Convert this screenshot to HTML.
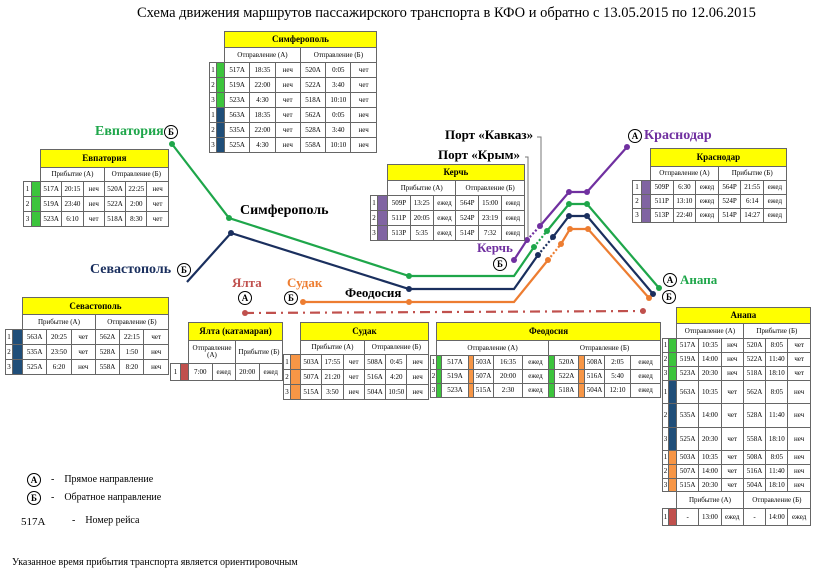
<!DOCTYPE html>
<html><head><meta charset="utf-8">
<style>
body{margin:0;width:820px;height:575px;background:#fff;position:relative;overflow:hidden;font-family:"Liberation Serif",serif;}
table{position:absolute;border-collapse:collapse;table-layout:fixed;font-size:7px;font-family:"Liberation Serif",serif;}
td{border:1px solid #666;text-align:center;padding:0;overflow:hidden;white-space:nowrap;line-height:1;}
td.e{border:none;}
td.h{background:#ffff00;font-weight:bold;font-size:9px;}
td.s{font-size:7px;}
.g{background:#3cc43c}.b{background:#1f4e79}.o{background:#f79646}.p{background:#8064a2}.r{background:#c0504d}
.t{position:absolute;white-space:nowrap;font-weight:bold;font-family:"Liberation Serif",serif;}
.c{position:absolute;width:12px;height:12px;border:1.5px solid #000;border-radius:50%;font:bold 9px "Liberation Serif",serif;text-align:center;line-height:12px;background:#fff;}
.x{position:absolute;white-space:nowrap;font-size:10px;}
</style></head><body>
<div class="x" style="left:137px;top:5px;font-size:14.5px;">Схема движения маршрутов пассажирского транспорта в КФО и обратно с 13.05.2015 по 12.06.2015</div>

<svg width="820" height="575" style="position:absolute;left:0;top:0">
<g fill="none" stroke-width="2.2">
<polyline points="172,144 229,218 409,276 514,276 534,247" stroke="#1ea64a"/>
<line x1="534" y1="247" x2="547" y2="231" stroke="#1ea64a" stroke-dasharray="2,2"/>
<polyline points="547,231 569,204 587,204 659,288" stroke="#1ea64a"/>
<polyline points="187,282 231,233 409,289 514,289 538,255" stroke="#1a2f5e"/>
<line x1="538" y1="255" x2="553" y2="237" stroke="#1a2f5e" stroke-dasharray="2,2"/>
<polyline points="553,237 569,216 587,216 653,294" stroke="#1a2f5e"/>
<polyline points="303,302 514,302 548,260" stroke="#ed7d31"/>
<line x1="548" y1="260" x2="561" y2="244" stroke="#ed7d31" stroke-dasharray="2,2"/>
<polyline points="561,244 570,229 588,229 649,298" stroke="#ed7d31"/>
<polyline points="514,260 527,240" stroke="#7030a0"/>
<line x1="527" y1="240" x2="540" y2="226" stroke="#7030a0" stroke-dasharray="2,2"/>
<polyline points="540,226 569,192 587,192 627,147" stroke="#7030a0"/>
<line x1="244" y1="313" x2="645" y2="311" stroke="#c0504d" stroke-dasharray="10,5,2,5"/>
</g>
<g stroke="#777" stroke-width="1" fill="none">
<polyline points="537,137 541,137 541,226"/>
<polyline points="525,157 528,157 528,240"/>
</g>
<g fill="#1ea64a"><circle cx="172" cy="144" r="3"/><circle cx="229" cy="218" r="3"/><circle cx="409" cy="276" r="3"/><circle cx="534" cy="247" r="3"/><circle cx="547" cy="231" r="3"/><circle cx="569" cy="204" r="3"/><circle cx="587" cy="204" r="3"/><circle cx="659" cy="288" r="3"/></g>
<g fill="#1a2f5e"><circle cx="231" cy="233" r="3"/><circle cx="409" cy="289" r="3"/><circle cx="538" cy="255" r="3"/><circle cx="553" cy="237" r="3"/><circle cx="569" cy="216" r="3"/><circle cx="587" cy="216" r="3"/><circle cx="653" cy="294" r="3"/></g>
<g fill="#ed7d31"><circle cx="303" cy="302" r="3"/><circle cx="409" cy="302" r="3"/><circle cx="548" cy="260" r="3"/><circle cx="561" cy="244" r="3"/><circle cx="570" cy="229" r="3"/><circle cx="588" cy="229" r="3"/><circle cx="649" cy="298" r="3"/></g>
<g fill="#7030a0"><circle cx="514" cy="260" r="3"/><circle cx="527" cy="240" r="3"/><circle cx="540" cy="226" r="3"/><circle cx="569" cy="192" r="3"/><circle cx="587" cy="192" r="3"/><circle cx="627" cy="147" r="3"/></g>
<g fill="#c0504d"><circle cx="245" cy="313" r="3"/><circle cx="643" cy="311" r="3"/></g>
</svg>

<div class="t" style="left:95px;top:124px;font-size:14px;color:#1ea64a">Евпатория</div><div class="c" style="left:164px;top:125px">Б</div>
<div class="t" style="left:240px;top:203px;font-size:14px;">Симферополь</div>
<div class="t" style="left:90px;top:262px;font-size:14px;color:#1a2f5e">Севастополь</div><div class="c" style="left:177px;top:263px">Б</div>
<div class="t" style="left:232px;top:275px;font-size:13px;color:#c0504d">Ялта</div><div class="c" style="left:238px;top:291px">А</div>
<div class="t" style="left:287px;top:275px;font-size:13px;color:#ed7d31">Судак</div><div class="c" style="left:284px;top:291px">Б</div>
<div class="t" style="left:345px;top:285px;font-size:13px;">Феодосия</div>
<div class="t" style="left:477px;top:240px;font-size:13px;color:#7030a0">Керчь</div><div class="c" style="left:493px;top:257px">Б</div>
<div class="t" style="left:445px;top:127px;font-size:13px;">Порт «Кавказ»</div>
<div class="t" style="left:438px;top:147px;font-size:13px;">Порт «Крым»</div>
<div class="c" style="left:628px;top:129px">А</div><div class="t" style="left:644px;top:128px;font-size:14px;color:#7030a0">Краснодар</div>
<div class="c" style="left:663px;top:273px">А</div><div class="t" style="left:680px;top:272px;font-size:13px;color:#1ea64a">Анапа</div>
<div class="c" style="left:662px;top:290px">Б</div>

<!-- Simferopol -->
<table style="left:209px;top:31px;width:167px">
<colgroup><col style="width:7px"><col style="width:8px"><col span="6" style="width:25.3px"></colgroup>
<tr style="height:16px"><td class="e" colspan="2"></td><td class="h" colspan="6">Симферополь</td></tr>
<tr style="height:15px"><td class="e" colspan="2"></td><td colspan="3">Отправление (А)</td><td colspan="3">Отправление (Б)</td></tr>
<tr style="height:15px"><td>1</td><td class="g"></td><td>517А</td><td>18:35</td><td>неч</td><td>520А</td><td>0:05</td><td>чет</td></tr>
<tr style="height:15px"><td>2</td><td class="g"></td><td>519А</td><td>22:00</td><td>неч</td><td>522А</td><td>3:40</td><td>чет</td></tr>
<tr style="height:15px"><td>3</td><td class="g"></td><td>523А</td><td>4:30</td><td>чет</td><td>518А</td><td>10:10</td><td>чет</td></tr>
<tr style="height:15px"><td>1</td><td class="b"></td><td>563А</td><td>18:35</td><td>чет</td><td>562А</td><td>0:05</td><td>неч</td></tr>
<tr style="height:15px"><td>2</td><td class="b"></td><td>535А</td><td>22:00</td><td>чет</td><td>528А</td><td>3:40</td><td>неч</td></tr>
<tr style="height:15px"><td>3</td><td class="b"></td><td>525А</td><td>4:30</td><td>неч</td><td>558А</td><td>10:10</td><td>неч</td></tr>
</table>

<!-- Evpatoria -->
<table style="left:23px;top:149px;width:145px">
<colgroup><col style="width:8px"><col style="width:9px"><col span="6" style="width:21.3px"></colgroup>
<tr style="height:18px"><td class="e" colspan="2"></td><td class="h" colspan="6">Евпатория</td></tr>
<tr style="height:14px"><td class="e" colspan="2"></td><td colspan="3">Прибытие (А)</td><td colspan="3">Отправление (Б)</td></tr>
<tr style="height:15px"><td>1</td><td class="g"></td><td>517А</td><td>20:15</td><td>неч</td><td>520А</td><td>22:25</td><td>неч</td></tr>
<tr style="height:15px"><td>2</td><td class="g"></td><td>519А</td><td>23:40</td><td>неч</td><td>522А</td><td>2:00</td><td>чет</td></tr>
<tr style="height:15px"><td>3</td><td class="g"></td><td>523А</td><td>6:10</td><td>чет</td><td>518А</td><td>8:30</td><td>чет</td></tr>
</table>

<!-- Kerch -->
<table style="left:370px;top:164px;width:154px">
<colgroup><col style="width:7px"><col style="width:10px"><col span="6" style="width:22.8px"></colgroup>
<tr style="height:16px"><td class="e" colspan="2"></td><td class="h" colspan="6">Керчь</td></tr>
<tr style="height:15px"><td class="e" colspan="2"></td><td colspan="3">Прибытие (А)</td><td colspan="3">Отправление (Б)</td></tr>
<tr style="height:15px"><td>1</td><td class="p"></td><td>509Р</td><td>13:25</td><td>ежед</td><td>564Р</td><td>15:00</td><td>ежед</td></tr>
<tr style="height:15px"><td>2</td><td class="p"></td><td>511Р</td><td>20:05</td><td>ежед</td><td>524Р</td><td>23:19</td><td>ежед</td></tr>
<tr style="height:15px"><td>3</td><td class="p"></td><td>513Р</td><td>5:35</td><td>ежед</td><td>514Р</td><td>7:32</td><td>ежед</td></tr>
</table>

<!-- Krasnodar -->
<table style="left:632px;top:148px;width:154px">
<colgroup><col style="width:9px"><col style="width:9px"><col span="6" style="width:22.6px"></colgroup>
<tr style="height:18px"><td class="e" colspan="2"></td><td class="h" colspan="6">Краснодар</td></tr>
<tr style="height:14px"><td class="e" colspan="2"></td><td colspan="3">Отправление (А)</td><td colspan="3">Прибытие (Б)</td></tr>
<tr style="height:14px"><td>1</td><td class="p"></td><td>509Р</td><td>6:30</td><td>ежед</td><td>564Р</td><td>21:55</td><td>ежед</td></tr>
<tr style="height:14px"><td>2</td><td class="p"></td><td>511Р</td><td>13:10</td><td>ежед</td><td>524Р</td><td>6:14</td><td>ежед</td></tr>
<tr style="height:14px"><td>3</td><td class="p"></td><td>513Р</td><td>22:40</td><td>ежед</td><td>514Р</td><td>14:27</td><td>ежед</td></tr>
</table>

<!-- Sevastopol -->
<table style="left:5px;top:297px;width:163px">
<colgroup><col style="width:7px"><col style="width:10px"><col span="6" style="width:24.3px"></colgroup>
<tr style="height:17px"><td class="e" colspan="2"></td><td class="h" colspan="6">Севастополь</td></tr>
<tr style="height:15px"><td class="e" colspan="2"></td><td colspan="3">Прибытие (А)</td><td colspan="3">Отправление (Б)</td></tr>
<tr style="height:15px"><td>1</td><td class="b"></td><td>563А</td><td>20:25</td><td>чет</td><td>562А</td><td>22:15</td><td>чет</td></tr>
<tr style="height:15px"><td>2</td><td class="b"></td><td>535А</td><td>23:50</td><td>чет</td><td>528А</td><td>1:50</td><td>неч</td></tr>
<tr style="height:15px"><td>3</td><td class="b"></td><td>525А</td><td>6:20</td><td>неч</td><td>558А</td><td>8:20</td><td>неч</td></tr>
</table>

<!-- Yalta -->
<table style="left:170px;top:322px;width:112px">
<colgroup><col style="width:10px"><col style="width:8px"><col span="4" style="width:23.5px"></colgroup>
<tr style="height:18px"><td class="e" colspan="2"></td><td class="h" colspan="4">Ялта (катамаран)</td></tr>
<tr style="height:23px"><td class="e" colspan="2"></td><td colspan="2" style="white-space:normal">Отправление (А)</td><td colspan="2" style="white-space:normal">Прибытие (Б)</td></tr>
<tr style="height:17px"><td>1</td><td class="r"></td><td>7:00</td><td>ежед</td><td>20:00</td><td>ежед</td></tr>
</table>

<!-- Sudak -->
<table style="left:283px;top:322px;width:145px">
<colgroup><col style="width:7px"><col style="width:10px"><col span="6" style="width:21.3px"></colgroup>
<tr style="height:18px"><td class="e" colspan="2"></td><td class="h" colspan="6">Судак</td></tr>
<tr style="height:14px"><td class="e" colspan="2"></td><td colspan="3">Прибытие (А)</td><td colspan="3">Отправление (Б)</td></tr>
<tr style="height:15px"><td>1</td><td class="o"></td><td>503А</td><td>17:55</td><td>чет</td><td>508А</td><td>0:45</td><td>неч</td></tr>
<tr style="height:15px"><td>2</td><td class="o"></td><td>507А</td><td>21:20</td><td>чет</td><td>516А</td><td>4:20</td><td>неч</td></tr>
<tr style="height:15px"><td>3</td><td class="o"></td><td>515А</td><td>3:50</td><td>неч</td><td>504А</td><td>10:50</td><td>неч</td></tr>
</table>

<!-- Feodosia -->
<table style="left:430px;top:322px;width:230px">
<colgroup><col style="width:6px"><col style="width:5px"><col style="width:27px"><col style="width:5px"><col style="width:20px"><col style="width:29px"><col style="width:26px"><col style="width:6px"><col style="width:24px"><col style="width:6px"><col style="width:20px"><col style="width:26px"><col style="width:30px"></colgroup>
<tr style="height:18px"><td class="e"></td><td class="h" colspan="12">Феодосия</td></tr>
<tr style="height:15px"><td class="e"></td><td colspan="6">Отправление (А)</td><td colspan="6">Отправление (Б)</td></tr>
<tr style="height:14px"><td>1</td><td class="g"></td><td>517А</td><td class="o"></td><td>503А</td><td>16:35</td><td>ежед</td><td class="g"></td><td>520А</td><td class="o"></td><td>508А</td><td>2:05</td><td>ежед</td></tr>
<tr style="height:14px"><td>2</td><td class="g"></td><td>519А</td><td class="o"></td><td>507А</td><td>20:00</td><td>ежед</td><td class="g"></td><td>522А</td><td class="o"></td><td>516А</td><td>5:40</td><td>ежед</td></tr>
<tr style="height:14px"><td>3</td><td class="g"></td><td>523А</td><td class="o"></td><td>515А</td><td>2:30</td><td>ежед</td><td class="g"></td><td>518А</td><td class="o"></td><td>504А</td><td>12:10</td><td>ежед</td></tr>
</table>

<!-- Anapa -->
<table style="left:662px;top:307px;width:148px">
<colgroup><col style="width:6px"><col style="width:8px"><col span="6" style="width:22.3px"></colgroup>
<tr style="height:16px"><td class="e" colspan="2"></td><td class="h" colspan="6">Анапа</td></tr>
<tr style="height:15px"><td class="e" colspan="2"></td><td colspan="3">Отправление (А)</td><td colspan="3">Прибытие (Б)</td></tr>
<tr style="height:14px"><td>1</td><td class="g"></td><td>517А</td><td>10:35</td><td>неч</td><td>520А</td><td>8:05</td><td>чет</td></tr>
<tr style="height:14px"><td>2</td><td class="g"></td><td>519А</td><td>14:00</td><td>неч</td><td>522А</td><td>11:40</td><td>чет</td></tr>
<tr style="height:14px"><td>3</td><td class="g"></td><td>523А</td><td>20:30</td><td>неч</td><td>518А</td><td>18:10</td><td>чет</td></tr>
<tr style="height:23px"><td>1</td><td class="b"></td><td>563А</td><td>10:35</td><td>чет</td><td>562А</td><td>8:05</td><td>неч</td></tr>
<tr style="height:24px"><td>2</td><td class="b"></td><td>535А</td><td>14:00</td><td>чет</td><td>528А</td><td>11:40</td><td>неч</td></tr>
<tr style="height:23px"><td>3</td><td class="b"></td><td>525А</td><td>20:30</td><td>чет</td><td>558А</td><td>18:10</td><td>неч</td></tr>
<tr style="height:14px"><td>1</td><td class="o"></td><td>503А</td><td>10:35</td><td>чет</td><td>508А</td><td>8:05</td><td>неч</td></tr>
<tr style="height:14px"><td>2</td><td class="o"></td><td>507А</td><td>14:00</td><td>чет</td><td>516А</td><td>11:40</td><td>неч</td></tr>
<tr style="height:13px"><td>3</td><td class="o"></td><td>515А</td><td>20:30</td><td>чет</td><td>504А</td><td>18:10</td><td>неч</td></tr>
<tr style="height:17px"><td class="e" colspan="2"></td><td colspan="3">Прибытие (А)</td><td colspan="3">Отправление (Б)</td></tr>
<tr style="height:17px"><td>1</td><td class="r"></td><td>-</td><td>13:00</td><td>ежед</td><td>-</td><td>14:00</td><td>ежед</td></tr>
</table>

<div class="c" style="left:27px;top:473px">А</div><div class="x" style="left:51px;top:474px">-&nbsp;&nbsp;&nbsp;&nbsp;Прямое направление</div>
<div class="c" style="left:27px;top:491px">Б</div><div class="x" style="left:51px;top:492px">-&nbsp;&nbsp;&nbsp;&nbsp;Обратное направление</div>
<div class="x" style="left:21px;top:516px;font-size:11px">517А</div><div class="x" style="left:72px;top:515px">-&nbsp;&nbsp;&nbsp;&nbsp;Номер рейса</div>
<div class="x" style="left:12px;top:557px">Указанное время прибытия транспорта является ориентировочным</div>
</body></html>
